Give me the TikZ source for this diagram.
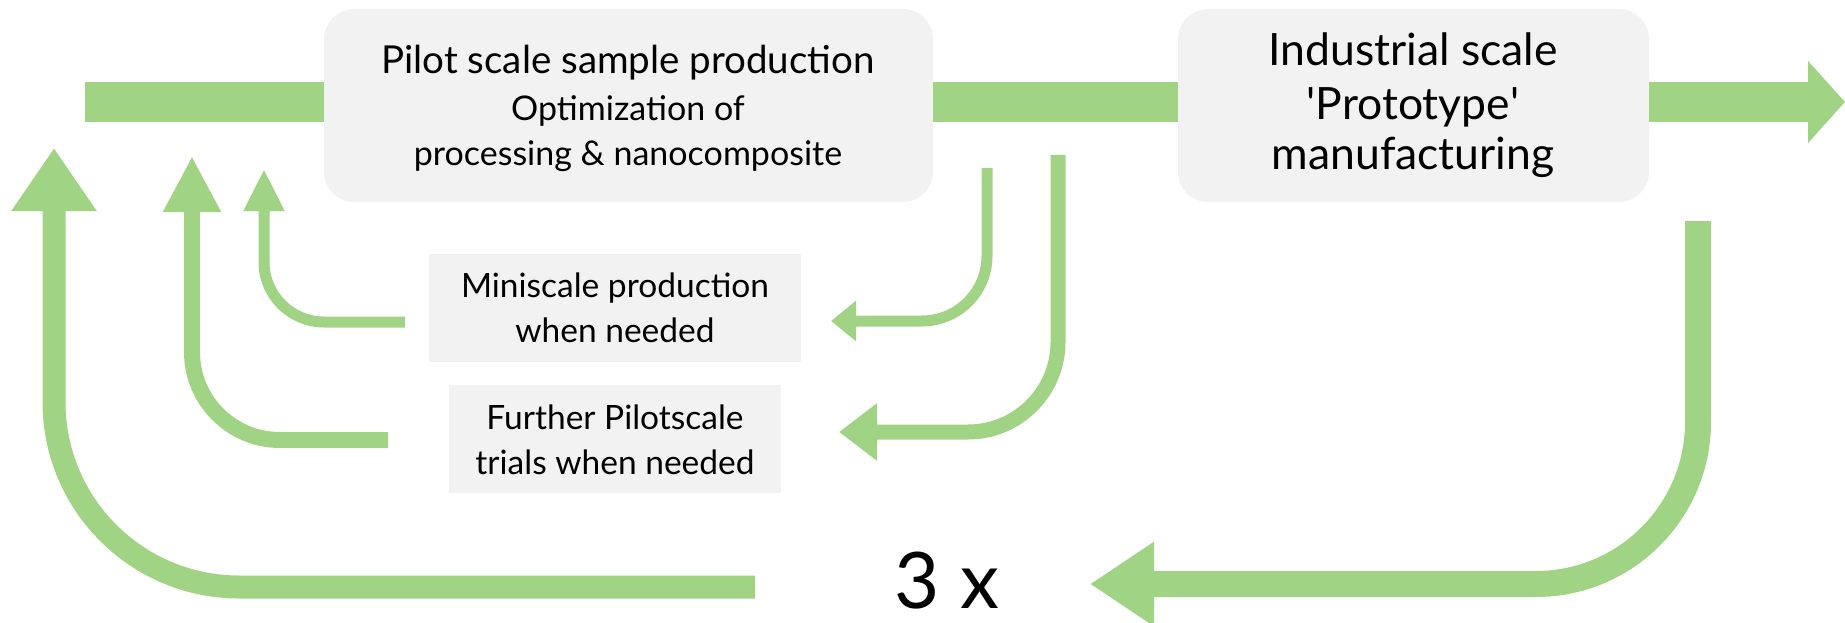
\documentclass[tikz,border=0pt]{standalone}
\usepackage{fontspec}
\setmainfont{Lato}
\usetikzlibrary{arrows.meta}
\definecolor{grn}{HTML}{A1D385}
\definecolor{boxgray}{HTML}{F2F2F2}
\tikzset{
  bigbox/.style={fill=boxgray, rounded corners=30pt, inner sep=0pt},
  smallbox/.style={fill=boxgray, inner sep=0pt},
  bar/.style={draw=grn, line width=40pt},
  flow/.style={draw=grn},
  lbl/.style={anchor=base, inner sep=0pt, text=black},
  fA/.style={font=\fontsize{38.5}{40}\selectfont},
  fB/.style={font=\fontsize{34}{40}\selectfont},
  fS/.style={font=\fontsize{33.5}{40}\selectfont},
  fC/.style={font=\fontsize{44.5}{50}\selectfont},
  fD/.style={font=\fontsize{78}{90}\selectfont},
}
\begin{document}
\begin{tikzpicture}[x=1pt,y=-1pt]
\useasboundingbox (0,0) rectangle (1845,623);
% boxes
\node[bigbox, minimum width=609pt, minimum height=193pt] (pilot) at (628.5,105.5) {};
\node[bigbox, minimum width=471pt, minimum height=193pt] (indus) at (1413.5,105.5) {};
\node[smallbox, minimum width=372pt, minimum height=108pt] (mini) at (615,308) {};
\node[smallbox, minimum width=332pt, minimum height=108pt] (further) at (615,439) {};
% main bar
\coordinate (barL) at (85,102);
\coordinate (tipR) at (1845,102);
\draw[bar] (barL) -- (pilot.west |- barL);
\draw[bar] (pilot.east |- barL) -- (indus.west |- barL);
\draw[bar, -{Triangle[length=37pt,width=80pt]}] (indus.east |- tipR) -- (tipR);
% return arrows left
\coordinate (aS) at (755,587); \coordinate (aT) at (54,148);
\draw[flow, line width=23pt, rounded corners=185pt, -{Triangle[length=63pt,width=81pt]}] (aS) -| (aT);
\coordinate (bS) at (388,440); \coordinate (bT) at (192,156);
\draw[flow, line width=16pt, rounded corners=88pt, -{Triangle[length=56pt,width=54pt]}] (bS) -| (bT);
\coordinate (cS) at (405,322); \coordinate (cT) at (264,169);
\draw[flow, line width=11pt, rounded corners=60pt, -{Triangle[length=42pt,width=38pt]}] (cS) -| (cT);
% return arrows right
\coordinate (dS) at (987,168); \coordinate (dT) at (831,321);
\draw[flow, line width=11pt, rounded corners=65pt, -{Triangle[length=25pt,width=39pt]}] (dS) |- (dT);
\coordinate (eS) at (1058,155); \coordinate (eT) at (839,432);
\draw[flow, line width=15pt, rounded corners=90pt, -{Triangle[length=38pt,width=55pt]}] (eS) |- (eT);
\coordinate (fS) at (1698,221); \coordinate (fT) at (1090,584);
\draw[flow, line width=26pt, rounded corners=162pt, -{Triangle[length=64pt,width=80pt]}] (fS) |- (fT);
% texts
\node[lbl, fA] (p1) at (628,74) {Pilot scale sample production};
\node[lbl, fB] (p2) at (628,121) {Optimization of};
\node[lbl, fB] (p3) at (628,166) {processing \& nanocomposite};
\node[lbl, fC] (i1) at (1413,66) {Industrial scale};
\node[lbl, fC] (i2) at (1413,120) {\textquotesingle Prototype\textquotesingle};
\node[lbl, fC] (i3) at (1413,170) {manufacturing};
\node[lbl, fS] (m1) at (615,297) {Miniscale production};
\node[lbl, fS] (m2) at (615,342) {when needed};
\node[lbl, fS] (f1) at (615,429) {Further Pilotscale};
\node[lbl, fS] (f2) at (615,474) {trials when needed};
\node[lbl, fD, text depth=0pt] (times) at (947,608) {3 x};
\end{tikzpicture}
\end{document}
